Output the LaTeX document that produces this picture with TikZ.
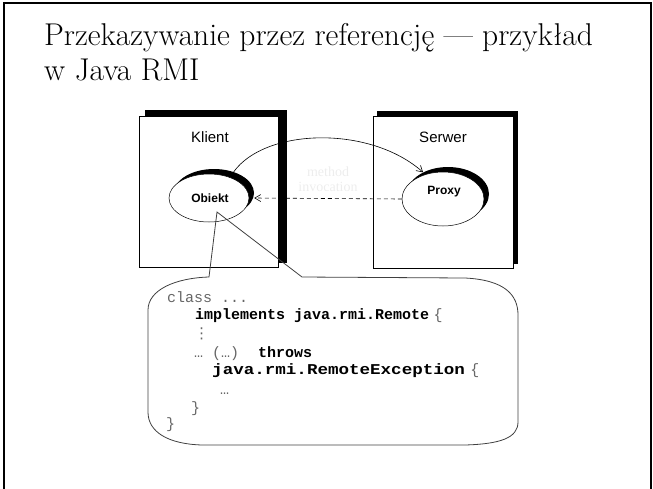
\documentclass[tikz,border=0pt]{standalone}
\usepackage{fontspec}
\usetikzlibrary{shapes.geometric,arrows.meta}
\newfontfamily\lsans{Liberation Sans}
\newfontfamily\lmono{Liberation Mono}
\newfontfamily\lserif{Liberation Serif}
\newfontfamily\dvsans{DejaVu Sans}
\begin{document}
\begin{tikzpicture}[x=1pt,y=-1pt,
  frame/.style={line width=2.5pt},
  box/.style={draw=black,fill=white,line width=0.6pt,anchor=north west,inner sep=0pt},
  shadowbox/.style={fill=black,anchor=north west,inner sep=0pt},
  oval/.style={ellipse,draw=black,fill=white,line width=0.5pt,inner sep=0pt},
  ovalshadow/.style={ellipse,fill=black,inner sep=0pt},
  lab/.style={font=\lsans\fontsize{15}{15}\selectfont,inner sep=0pt},
  ovlab/.style={font=\lsans\bfseries\fontsize{12}{12}\selectfont,inner sep=0pt},
  arr/.style={-{Straight Barb[length=6pt,width=7pt]},line width=0.6pt},
  faint/.style={font=\lserif\fontsize{14}{14}\selectfont,text=black!7,inner sep=0pt},
  callout/.style={draw=black!75,line width=0.8pt},
  code/.style={anchor=base west,inner sep=0pt,font=\lmono\fontsize{15}{15}\selectfont},
  codelt/.style={code,text=black!60},
  codebf/.style={code,font=\lmono\bfseries\fontsize{15}{15}\selectfont},
  titlefont/.style={anchor=base west,inner sep=0pt,font=\fontsize{31.5}{35}\selectfont}]
\useasboundingbox (0,0) rectangle (653,488);
\draw[frame] (4,500) -- (4,3) -- (651,3) -- (651,500);
% title
\node[titlefont] (t1) at (44,45) {Przekazywanie przez referencję — przykład};
\node[titlefont] (t2) at (44,80) {w Java RMI};
% boxes
\node[shadowbox,minimum width=142pt,minimum height=153pt] (ksh) at (145,110) {};
\node[box,minimum width=139pt,minimum height=151pt] (klient) at (139,116) {};
\node[shadowbox,minimum width=141pt,minimum height=153pt] (ssh) at (377,111) {};
\node[box,minimum width=140pt,minimum height=152pt] (serwer) at (373,116) {};
\node[lab] (kl) at (210,137) {Klient};
\node[lab] (sl) at (443,137) {Serwer};
% ovals
\node[ovalshadow,minimum width=80pt,minimum height=48pt] (objsh) at (214,193) {};
\node[oval,minimum width=80pt,minimum height=48pt] (obj) at (209,198) {};
\node[ovlab] (objl) at (210,198) {Obiekt};
\node[ovalshadow,minimum width=82pt,minimum height=54pt] (proxysh) at (448,194) {};
\node[oval,minimum width=82pt,minimum height=54pt] (proxy) at (443,199) {};
\node[ovlab] (proxyl) at (444,192) {Proxy};
% faint label
\node[faint] (m1) at (328,172) {method};
\node[faint] (m2) at (328,187) {invocation};
% connectors
\draw[arr] (objsh.47) .. controls (265,128) and (370,125) .. (proxysh.139);
\draw[arr,dash pattern=on 4pt off 3pt] (proxy.west) -- (obj.east -| objsh.east);
% callout
\coordinate (tip) at (217,212);
\draw[callout] (tip) -- (302,277) -- (465,278) .. controls (505,280) and (518,295) .. (518,315)
  -- (518,422) .. controls (518,438) and (500,444) .. (465,445) -- (202,445)
  .. controls (168,444) and (148,432) .. (148,412) -- (148,310)
  .. controls (148,290) and (175,278) .. (209,277) -- cycle;
% code
\node[codelt] (c1) at (167,302) {class ...};
\node[codebf] (c2) at (195,319) {implements java.rmi.Remote};
\node[codelt,anchor=base west] (c2b) at ([xshift=4pt]c2.base east) {\{};
\node[codelt,font=\dvsans\fontsize{15}{15}\selectfont] (c3) at (194,338) {⋮};
\node[codelt] (c4) at (194,357) {… (…)};
\node[codebf] (c4b) at (258,357) {throws};
\node[codebf,xscale=1.17] (c5) at (212,374) {java.rmi.RemoteException};
\node[codelt,anchor=base west] (c5b) at ([xshift=5pt]c5.base east) {\{};
\node[codelt] (c6) at (220,394) {…};
\node[codelt] (c7) at (191,412) {\}};
\node[codelt] (c8) at (166,428) {\}};
\end{tikzpicture}
\end{document}
